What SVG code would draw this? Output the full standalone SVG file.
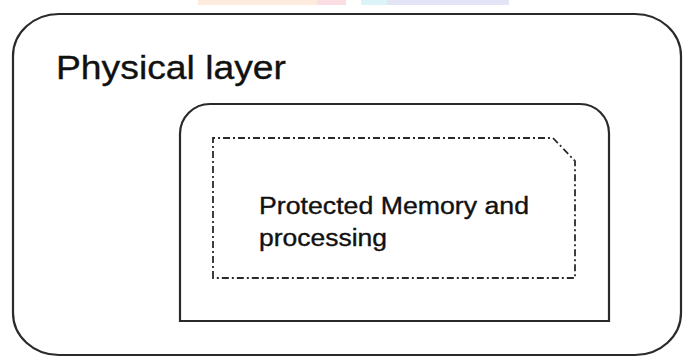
<svg xmlns="http://www.w3.org/2000/svg" width="683" height="358" viewBox="0 0 683 358">
<style>
.box{fill:none;stroke:#2a2a2a;stroke-width:2.2}
.dash{fill:none;stroke:#2a2a2a;stroke-width:1.8;stroke-dasharray:7 3 2 3}
.t{font-family:"Liberation Sans",Arial,sans-serif;fill:#111;stroke:#111;stroke-width:0.35}
</style>
<rect x="0" y="0" width="683" height="358" fill="#ffffff"/>
<g id="header-remnants" opacity="0.9">
<rect x="198" y="0" width="119" height="5" fill="#fde9da"/>
<rect x="317" y="0" width="29" height="5" fill="#fadbe2"/>
<rect x="361" y="0" width="26" height="5" fill="#d9f2f8"/>
<rect x="387" y="0" width="122" height="5" fill="#e0e2f6"/>
</g>
<g id="physical-layer">
<rect class="box" x="13" y="14" width="668" height="341" rx="46" ry="42"/>
<text class="t" x="56" y="79" font-size="34" textLength="230" lengthAdjust="spacingAndGlyphs">Physical layer</text>
</g>
<g id="inner-box">
<path class="box" d="M180,321 V134 A30,30 0 0 1 210,104 H580 A29,29 0 0 1 609,133 V321 Z"/>
</g>
<g id="protected-memory">
<path class="dash" d="M213,278 V138 H553 L575,161 V278 Z"/>
<text class="t" x="259" y="214" font-size="23" textLength="270" lengthAdjust="spacingAndGlyphs">Protected Memory and</text>
<text class="t" x="259" y="246" font-size="23" textLength="128" lengthAdjust="spacingAndGlyphs">processing</text>
</g>
<g id="connectors"/>
</svg>
